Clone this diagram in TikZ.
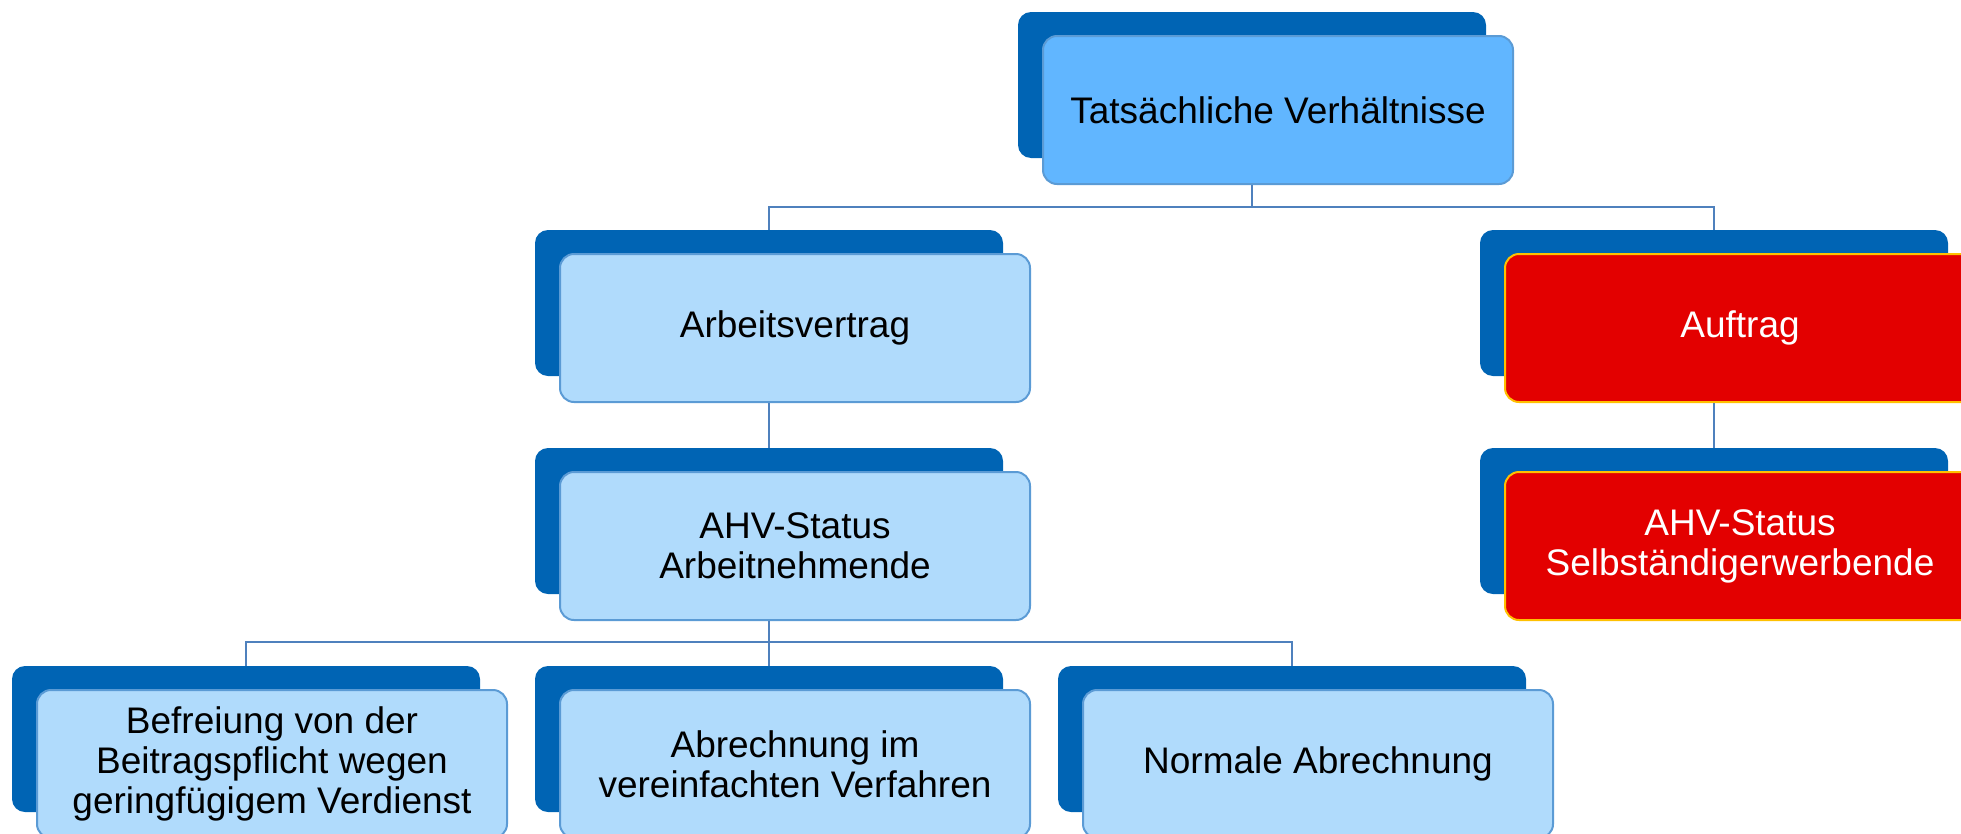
\documentclass[tikz,border=0pt]{standalone}
\usepackage{fontspec}
\setmainfont{Liberation Sans}
\definecolor{backblue}{HTML}{0064B4}
\definecolor{topfill}{HTML}{61B6FF}
\definecolor{lightfill}{HTML}{B0DBFC}
\definecolor{frontedge}{HTML}{5B9BD5}
\definecolor{connblue}{HTML}{4F81BD}
\definecolor{redfill}{HTML}{E30000}
\definecolor{rededge}{HTML}{FFC000}
\begin{document}
\begin{tikzpicture}[x=1pt,y=-1pt,
 backbox/.style={fill=backblue, rounded corners=13pt, minimum width=468pt, minimum height=146pt, inner sep=0pt},
 frontbox/.style={draw=frontedge, line width=2pt, fill=lightfill, rounded corners=14pt, minimum width=470pt, minimum height=148pt, inner sep=0pt, align=center, font=\fontsize{37}{40}\selectfont, text=black},
 topbox/.style={frontbox, fill=topfill},
 redbox/.style={frontbox, draw=rededge, fill=redfill, text=white},
 conn/.style={draw=connblue, line width=2pt}]
\useasboundingbox (0,0) rectangle (1961,833);
% back boxes
\node[backbox] (tb)   at (1252,85) {};
\node[backbox] (arbb) at (769,303) {};
\node[backbox] (ahvb) at (769,521) {};
\node[backbox] (aufb) at (1714,303) {};
\node[backbox] (selb) at (1714,521) {};
\node[backbox] (blb)  at (246,739) {};
\node[backbox] (bmb)  at (769,739) {};
\node[backbox] (brb)  at (1292,739) {};
% front boxes
\node[topbox] (tf)   at (1278,110) {Tatsächliche Verhältnisse};
\node[frontbox] (arbf) at (795,328) {Arbeitsvertrag};
\node[frontbox] (ahvf) at (795,546) {AHV-Status\\Arbeitnehmende};
\node[redbox] (auff) at (1740,328) {Auftrag};
\node[redbox] (self) at (1740,546) {AHV-Status\\Selbständigerwerbende};
\node[frontbox] (blf) at (272,764) {Befreiung von der\\Beitragspflicht wegen\\geringfügigem Verdienst};
\node[frontbox] (bmf) at (795,764) {Abrechnung im\\vereinfachten Verfahren};
\node[frontbox] (brf) at (1318,764) {Normale Abrechnung};
% connectors
\coordinate (h1) at (1252,207);
\coordinate (h2) at (769,642);
\draw[conn] (tb.center |- tf.south) -- (h1) -| (arbb.north);
\draw[conn] (h1) -| (aufb.north);
\draw[conn] (arbb.center |- arbf.south) -- (ahvb.north);
\draw[conn] (aufb.center |- auff.south) -- (selb.north);
\draw[conn] (ahvb.center |- ahvf.south) -- (h2) -| (blb.north);
\draw[conn] (h2) -| (brb.north);
\draw[conn] (h2) -- (bmb.north);
\end{tikzpicture}
\end{document}
